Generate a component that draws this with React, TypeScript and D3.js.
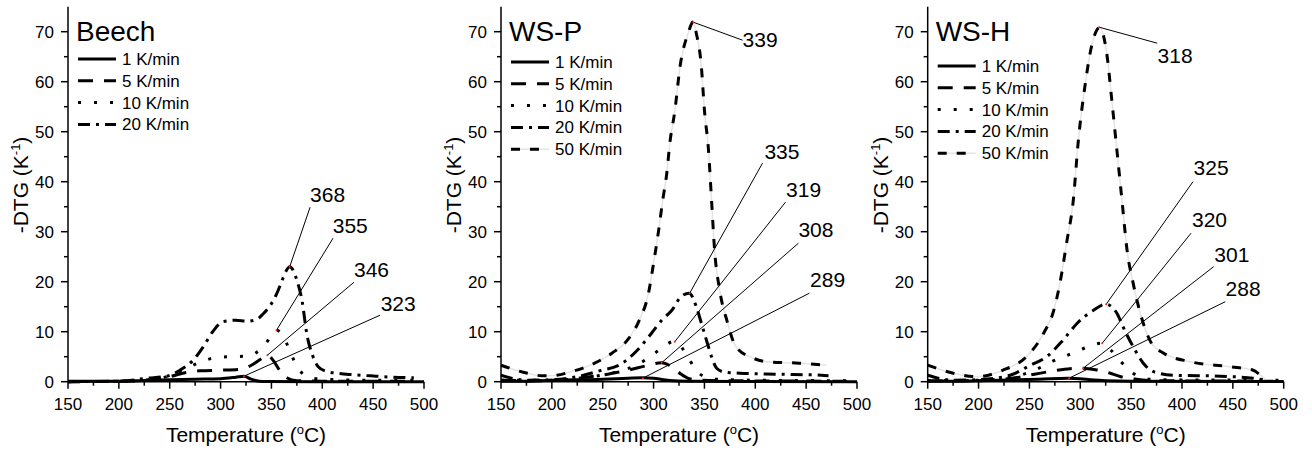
import React from "react";
import * as d3 from "d3";

// ---------- DATA ----------
const panelNames = ["Beech", "WS-P", "WS-H"];
const rateLabels = ["1 K/min", "5 K/min", "10 K/min", "20 K/min", "50 K/min"];
const xTicks = [150, 200, 250, 300, 350, 400, 450, 500];
const yTicks = [0, 10, 20, 30, 40, 50, 60, 70];

// Beech
const beech1T = [150, 200, 230, 250, 275, 300, 315, 323, 330, 338, 345, 400, 500];
const beech1V = [0.1, 0.1, 0.3, 0.4, 0.5, 0.6, 0.9, 1.1, 0.5, 0.1, 0.05, 0, 0];
const beech5T = [150, 200, 230, 250, 265, 280, 300, 320, 332, 340, 346, 352, 358, 365, 375, 400, 490];
const beech5V = [0, 0.1, 0.4, 1, 1.8, 2.2, 2.3, 2.5, 3.5, 4.6, 5.3, 4.2, 2.3, 0.8, 0.2, 0.1, 0.1];
const beech10T = [150, 200, 230, 250, 265, 280, 295, 310, 325, 335, 345, 355, 363, 370, 377, 385, 400, 450, 490];
const beech10V = [0, 0.1, 0.4, 1.2, 2.5, 3.9, 4.8, 5, 5.1, 5.8, 7.8, 10.3, 8.5, 5.2, 2.5, 1, 0.5, 0.3, 0.3];
const beech20T = [150, 200, 228, 247, 260, 273, 283, 293, 302, 315, 326, 335, 342, 349, 355, 360, 364, 368, 375, 380, 385, 390, 396, 405, 414, 430, 453, 470, 490];
const beech20V = [0, 0.1, 0.7, 1.1, 2.3, 4.3, 7, 10.2, 12, 12.3, 12.1, 12.4, 13.6, 15.3, 17.5, 20, 22, 23, 20.3, 16.3, 9.3, 5.5, 3, 2, 1.7, 1.4, 1.1, 0.9, 0.8];

// WS-P
const wsp1T = [150, 170, 200, 250, 275, 289, 300, 310, 320, 340, 400, 500];
const wsp1V = [0.1, 0.1, 0.3, 0.5, 0.7, 0.8, 0.7, 0.4, 0.2, 0.1, 0.05, 0];
const wsp5T = [150, 180, 210, 230, 255, 275, 293, 308, 318, 327, 335, 345, 370, 490];
const wsp5V = [0.3, 0.2, 0.3, 0.8, 1.5, 2.3, 3.2, 3.8, 3, 1.5, 0.6, 0.3, 0.2, 0.1];
const wsp10T = [150, 200, 240, 265, 285, 300, 313, 319, 327, 335, 342, 350, 360, 400, 490];
const wsp10V = [0.3, 0.3, 1, 2, 3.5, 5.5, 7.5, 8, 7, 4.5, 2.2, 1, 0.5, 0.3, 0.2];
const wsp20T = [150, 163, 175, 200, 225, 249, 265, 284, 298, 308, 318, 327, 335, 342, 347, 352, 357, 362, 370, 385, 422, 465, 472];
const wsp20V = [1.3, 0.6, 0.3, 0.4, 1, 2.3, 3.2, 6.3, 9.7, 12.3, 14.3, 17, 17.7, 15, 11.7, 8.3, 5, 2.7, 1.9, 1.7, 1.5, 1.3, 1.2];
const wsp50T = [150, 163, 176, 190, 200, 219, 242, 259, 275, 286, 295, 300, 305, 309, 313, 316, 321, 326, 334, 339, 342, 347, 350, 354, 357, 360, 365, 372, 381, 398, 411, 443, 470];
const wsp50V = [3.3, 2.4, 1.7, 1.2, 1.2, 2, 3.7, 5.7, 8.5, 12.3, 17.7, 23.7, 30.3, 36.3, 41.7, 47.7, 54.3, 63, 69.7, 72, 69.7, 63, 54.3, 46.3, 36.3, 26.3, 18.3, 12.3, 7, 4.7, 4, 3.7, 3.3];

// WS-H
const wsh1T = [150, 180, 220, 260, 288, 300, 310, 325, 350, 500];
const wsh1V = [0.1, 0.1, 0.3, 0.5, 0.7, 0.6, 0.4, 0.2, 0.1, 0.05];
const wsh5T = [150, 200, 230, 255, 275, 290, 301, 315, 328, 340, 355, 375, 490];
const wsh5V = [0.2, 0.2, 0.6, 1.5, 2.2, 2.6, 2.7, 2.4, 1.8, 1, 0.5, 0.2, 0.1];
const wsh10T = [150, 200, 235, 255, 272, 290, 308, 320, 330, 340, 350, 360, 375, 495];
const wsh10V = [0.2, 0.3, 1, 2.3, 4, 5.5, 7, 7.7, 6.3, 4, 2, 0.8, 0.4, 0.3];
const wsh20T = [150, 163, 175, 200, 231, 251, 267, 283, 297, 313, 325, 336, 342, 352, 362, 372, 392, 438, 470, 480];
const wsh20V = [1.3, 0.6, 0.3, 0.4, 1.3, 3.3, 5, 8.3, 11.7, 14.3, 15.5, 13.7, 11, 7, 3.7, 2, 1.3, 1.1, 0.7, 0.4];
const wsh50T = [150, 175, 198, 224, 247, 264, 274, 280, 287, 293, 298, 305, 311, 319, 326, 331, 336, 341, 346, 352, 361, 370, 382, 408, 447, 470, 476, 482];
const wsh50V = [3.3, 1.7, 1, 2.3, 5, 9.7, 14.3, 19.7, 28.3, 36, 48, 59.7, 67, 70.8, 65.7, 56.3, 46.3, 36.3, 26.3, 19.7, 12.3, 7.7, 5.7, 4, 3, 2.3, 1.5, 0.5];

// Peak annotations: label, peak (T, value), leader end (T, value), text (T, value)
const beechPeakLabels = ["368", "355", "346", "323"];
const beechPeakT = [368, 355, 346, 323];
const beechPeakV = [23, 10.3, 5.3, 1.1];
const beechLeadT = [388, 410.6, 431.2, 456.8];
const beechLeadV = [34.9, 28.7, 19.9, 13.3];
const beechTextT = [388, 410.3, 431.2, 457.4];
const beechTextV = [35.9, 29.7, 20.9, 14.1];

const wspPeakLabels = ["339", "335", "319", "308", "289"];
const wspPeakT = [339, 335.5, 320.8, 308, 289.4];
const wspPeakV = [71.9, 17.7, 8, 3.8, 0.7];
const wspLeadT = [387.5, 407.1, 429.7, 442.4, 453.2];
const wspLeadV = [68.3, 43.7, 35.9, 27.7, 17.7];
const wspTextT = [387.5, 409, 430.3, 442.4, 453.9];
const wspTextV = [67, 44.5, 36.9, 28.9, 18.9];

const wshPeakLabels = ["318", "325", "320", "301", "288"];
const wshPeakT = [318.6, 325.5, 321.6, 302.9, 289];
const wshPeakV = [70.9, 15.5, 7.7, 2.7, 0.7];
const wshLeadT = [375.7, 410.8, 408.9, 431.1, 442.6];
const wshLeadV = [67.7, 40, 29.7, 23, 16];
const wshTextT = [376, 411.4, 409.8, 431.8, 442.9];
const wshTextV = [63.8, 41.3, 31, 24, 17.1];

// ---------- STYLE / LAYOUT ----------
const FONT = "'Liberation Sans', Arial, Helvetica, sans-serif";
const W = 1312;
const H = 455;
const PANEL_LEFT = [68, 501, 927.7];
const PLOT_W = 356;
const Y_BOTTOM = 381.7;
const Y_TOP = 6.7;
const LEGEND_TOP = [59, 62, 66];
const LEGEND_STEP = 21.8;
const DASHES = ["none", "15,11", "3,13", "12,6,3,6", "9,10"];

type Series = { t: number[]; v: number[] };

const panelSeries: Series[][] = [
  [
    { t: beech1T, v: beech1V },
    { t: beech5T, v: beech5V },
    { t: beech10T, v: beech10V },
    { t: beech20T, v: beech20V },
  ],
  [
    { t: wsp1T, v: wsp1V },
    { t: wsp5T, v: wsp5V },
    { t: wsp10T, v: wsp10V },
    { t: wsp20T, v: wsp20V },
    { t: wsp50T, v: wsp50V },
  ],
  [
    { t: wsh1T, v: wsh1V },
    { t: wsh5T, v: wsh5V },
    { t: wsh10T, v: wsh10V },
    { t: wsh20T, v: wsh20V },
    { t: wsh50T, v: wsh50V },
  ],
];

const panelAnnotations = [
  { labels: beechPeakLabels, pt: beechPeakT, pv: beechPeakV, lt: beechLeadT, lv: beechLeadV, tt: beechTextT, tv: beechTextV },
  { labels: wspPeakLabels, pt: wspPeakT, pv: wspPeakV, lt: wspLeadT, lv: wspLeadV, tt: wspTextT, tv: wspTextV },
  { labels: wshPeakLabels, pt: wshPeakT, pv: wshPeakV, lt: wshLeadT, lv: wshLeadV, tt: wshTextT, tv: wshTextV },
];

function Panel({ idx }: { idx: number }) {
  const left = PANEL_LEFT[idx];
  const x = d3.scaleLinear().domain([150, 500]).range([left, left + PLOT_W]);
  const y = d3.scaleLinear().domain([0, 75]).range([Y_BOTTOM, Y_TOP]);
  const series = panelSeries[idx];
  const ann = panelAnnotations[idx];
  const line = d3
    .line<[number, number]>()
    .x((d) => x(d[0]))
    .y((d) => y(d[1]))
    .curve(d3.curveMonotoneX);

  const xMinor = d3.range(175, 500, 50);
  const yMinor = d3.range(5, 75, 10);
  const cx = left + PLOT_W / 2;
  const cy = 185;

  return (
    <g>
      {/* curves */}
      {series.map((s, i) => {
        const pts = s.t.map((t, k) => [t, s.v[k]] as [number, number]);
        const d = line(pts) || "";
        return (
          <g key={i}>
            {i === 4 && <path d={d} fill="none" stroke="#e4e4e4" strokeWidth={1.5} />}
            <path
              d={d}
              fill="none"
              stroke="#000"
              strokeWidth={3}
              strokeDasharray={DASHES[i]}
              strokeLinejoin="round"
            />
          </g>
        );
      })}

      {/* annotations */}
      {ann.labels.map((lab, i) => (
        <g key={lab}>
          <line
            x1={x(ann.pt[i])}
            y1={y(ann.pv[i])}
            x2={x(ann.lt[i])}
            y2={y(ann.lv[i])}
            stroke="#000"
            strokeWidth={1}
          />
          <circle cx={x(ann.pt[i])} cy={y(ann.pv[i])} r={1} fill="#ff2020" />
          <text x={x(ann.tt[i])} y={y(ann.tv[i])} fontSize={21} fontFamily={FONT} fill="#000">
            {lab}
          </text>
        </g>
      ))}

      {/* axes */}
      <line x1={left} x2={left + PLOT_W} y1={Y_BOTTOM} y2={Y_BOTTOM} stroke="#000" strokeWidth={1.5} />
      <line x1={left} x2={left} y1={Y_BOTTOM} y2={Y_TOP} stroke="#000" strokeWidth={1.5} />
      {xTicks.map((t) => (
        <g key={"xt" + t}>
          <line x1={x(t)} x2={x(t)} y1={Y_BOTTOM} y2={Y_BOTTOM + 7} stroke="#000" strokeWidth={1.5} />
          <text x={x(t)} y={409.5} fontSize={17} fontFamily={FONT} textAnchor="middle" fill="#000">
            {t}
          </text>
        </g>
      ))}
      {xMinor.map((t) => (
        <line key={"xm" + t} x1={x(t)} x2={x(t)} y1={Y_BOTTOM} y2={Y_BOTTOM + 4} stroke="#000" strokeWidth={1.5} />
      ))}
      {yTicks.map((v) => (
        <g key={"yt" + v}>
          <line x1={left - 7} x2={left} y1={y(v)} y2={y(v)} stroke="#000" strokeWidth={1.5} />
          <text x={left - 14} y={y(v) + 6} fontSize={17} fontFamily={FONT} textAnchor="end" fill="#000">
            {v}
          </text>
        </g>
      ))}
      {yMinor.map((v) => (
        <line key={"ym" + v} x1={left - 4} x2={left} y1={y(v)} y2={y(v)} stroke="#000" strokeWidth={1.5} />
      ))}

      {/* axis titles */}
      <text x={cx} y={442} fontSize={21} fontFamily={FONT} textAnchor="middle" fill="#000">
        Temperature (
        <tspan fontSize={13} dy={-8}>o</tspan>
        <tspan dy={8}>C)</tspan>
      </text>
      <text
        transform={`translate(${left - 40},${cy}) rotate(-90)`}
        fontSize={21}
        fontFamily={FONT}
        textAnchor="middle"
        fill="#000"
      >
        -DTG (K
        <tspan fontSize={13} dy={-8}>-1</tspan>
        <tspan dy={8}>)</tspan>
      </text>

      {/* title */}
      <text x={left + 8} y={41} fontSize={28} fontFamily={FONT} fill="#000">
        {panelNames[idx]}
      </text>

      {/* legend */}
      {series.map((_, i) => {
        const ly = LEGEND_TOP[idx] + i * LEGEND_STEP;
        return (
          <g key={"lg" + i}>
            {i === 4 && (
              <line x1={left + 10} x2={left + 48} y1={ly} y2={ly} stroke="#e4e4e4" strokeWidth={1.5} />
            )}
            <line
              x1={left + 10}
              x2={left + 48}
              y1={ly}
              y2={ly}
              stroke="#000"
              strokeWidth={3}
              strokeDasharray={DASHES[i]}
            />
            <text x={left + 54} y={ly + 6} fontSize={17} fontFamily={FONT} fill="#000">
              {rateLabels[i]}
            </text>
          </g>
        );
      })}
    </g>
  );
}

export default function App() {
  return (
    <svg
      width={W}
      height={H}
      viewBox={`0 0 ${W} ${H}`}
      style={{ position: "fixed", left: 0, top: 0, background: "#fff" }}
    >
      <rect x={0} y={0} width={W} height={H} fill="#fff" />
      {panelNames.map((_, i) => (
        <Panel key={i} idx={i} />
      ))}
    </svg>
  );
}
